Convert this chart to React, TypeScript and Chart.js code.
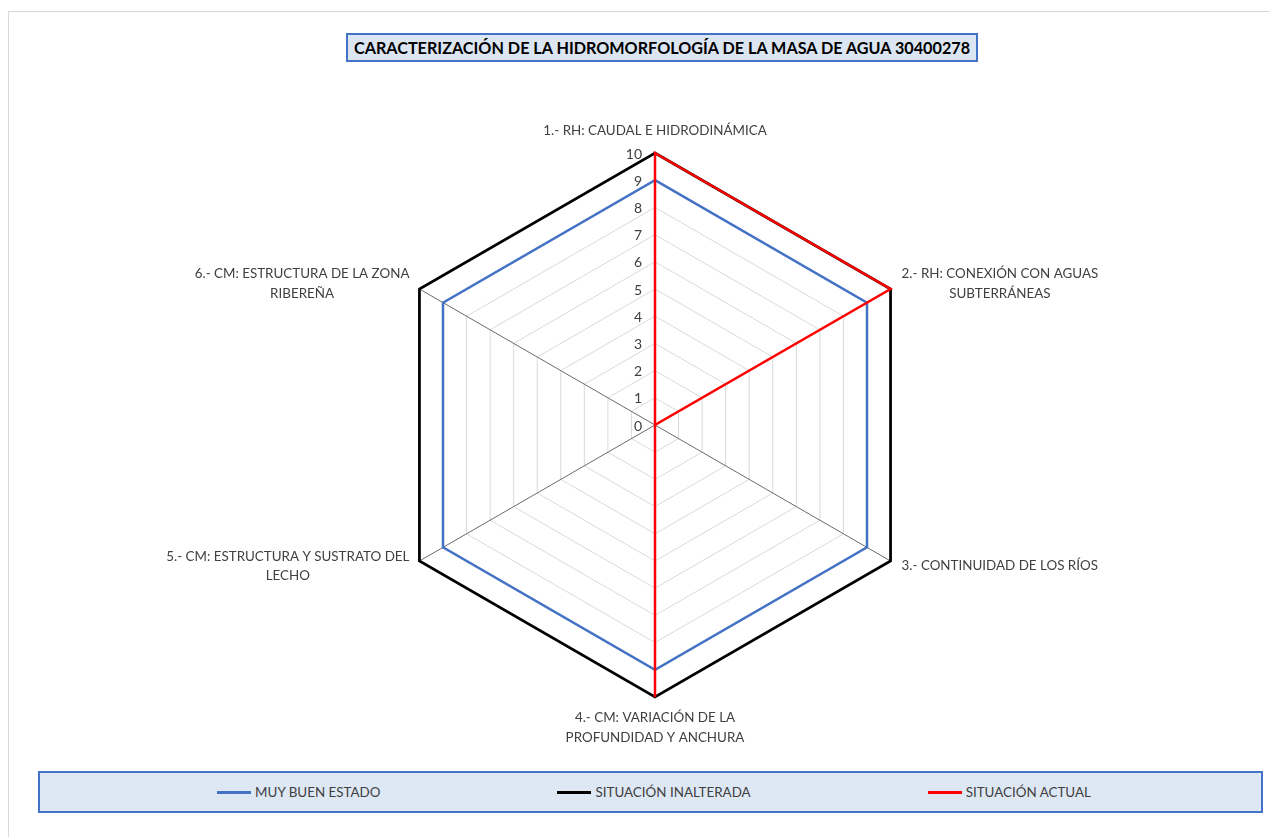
import React, { useEffect, useRef } from "react";
import { Chart, registerables } from "chart.js";

Chart.register(...registerables);

const TITLE = "CARACTERIZACIÓN DE LA HIDROMORFOLOGÍA DE LA MASA DE AGUA 30400278";

const categories: string[][] = [
  ["1.- RH: CAUDAL E HIDRODINÁMICA"],
  ["2.- RH: CONEXIÓN CON AGUAS", "SUBTERRÁNEAS"],
  ["3.- CONTINUIDAD DE LOS RÍOS"],
  ["4.- CM: VARIACIÓN DE LA", "PROFUNDIDAD Y ANCHURA"],
  ["5.- CM: ESTRUCTURA Y SUSTRATO DEL", "LECHO"],
  ["6.- CM: ESTRUCTURA DE LA ZONA", "RIBEREÑA"],
];

const seriesNames = ["MUY BUEN ESTADO", "SITUACIÓN INALTERADA", "SITUACIÓN ACTUAL"];
const muyBuenEstado = [9, 9, 9, 9, 9, 9];
const situacionInalterada = [10, 10, 10, 10, 10, 10];
const situacionActual = [10, 10, 0, 10, 0, 0];
const seriesColors = ["#4472C4", "#000000", "#FF0000"];

const axisMin = 0;
const axisMax = 10;
const axisStep = 1;

const LABEL_FONT = "13.4px Lato";
const TICK_FONT = "14px Lato";
const TEXT_COLOR = "#404040";

const labelPlugin = {
  id: "excelLabels",
  afterDraw(chart: any) {
    const scale = chart.scales.r;
    const ctx = chart.ctx;
    ctx.save();
    // tick labels (including 0), right aligned left of the vertical axis
    ctx.font = TICK_FONT;
    ctx.fillStyle = TEXT_COLOR;
    ctx.textAlign = "right";
    ctx.textBaseline = "middle";
    scale.ticks.forEach((t: any) => {
      const d = scale.getDistanceFromCenterForValue(t.value);
      ctx.fillText(String(t.value), scale.xCenter - 13, scale.yCenter - d + 1);
    });
    // category labels
    ctx.font = LABEL_FONT;
    const lh = 19.5;
    const labels: string[][] = chart.data.labels;
    labels.forEach((lines, i) => {
      const p = scale.getPointPosition(i, scale.drawingArea);
      const dx = p.x - scale.xCenter;
      const dy = p.y - scale.yCenter;
      const widths = lines.map((l) => ctx.measureText(l).width);
      const maxW = Math.max(...widths);
      ctx.textAlign = "center";
      ctx.textBaseline = "middle";
      let cx: number;
      let firstY: number;
      const n = lines.length;
      if (Math.abs(dx) < 1) {
        cx = p.x;
        if (dy < 0) firstY = p.y - 22 - (n - 1) * lh;
        else firstY = p.y + 21;
      } else {
        cx = dx > 0 ? p.x + 11 + maxW / 2 : p.x - 10 - maxW / 2;
        const centerY = p.y + (dy < 0 ? -5.5 : 5);
        firstY = centerY - ((n - 1) * lh) / 2;
      }
      lines.forEach((l, k) => ctx.fillText(l, cx, firstY + k * lh));
    });
    ctx.restore();
  },
};

export default function App() {
  const canvasRef = useRef<HTMLCanvasElement | null>(null);

  useEffect(() => {
    document.body.style.overflow = "hidden";
    const chart = new Chart(canvasRef.current as HTMLCanvasElement, {
      type: "radar",
      data: {
        labels: categories as any,
        datasets: [
          { label: seriesNames[0], data: muyBuenEstado, borderColor: seriesColors[0], borderWidth: 2.5, order: 3 },
          { label: seriesNames[1], data: situacionInalterada, borderColor: seriesColors[1], borderWidth: 2.75, order: 2 },
          { label: seriesNames[2], data: situacionActual, borderColor: seriesColors[2], borderWidth: 2.5, order: 1 },
        ].map((d) => ({ ...d, fill: false, pointRadius: 0, pointHoverRadius: 0, tension: 0, backgroundColor: "transparent" })),
      },
      options: {
        animation: false,
        responsive: true,
        maintainAspectRatio: false,
        layout: { padding: { top: 141, bottom: 55, left: 32, right: 0 } },
        plugins: { legend: { display: false }, title: { display: false }, tooltip: { enabled: false } },
        scales: {
          r: {
            min: axisMin,
            max: axisMax,
            ticks: { display: false, stepSize: axisStep },
            pointLabels: { display: false },
            grid: { circular: false, color: "#d9d9d9", lineWidth: 1 },
            angleLines: { display: true, color: "#6b6b6b", lineWidth: 1 },
          },
        },
      },
      plugins: [labelPlugin],
    });
    return () => chart.destroy();
  }, []);

  return (
    <div style={{ position: "absolute", left: 0, top: 0, width: 1270, height: 837, overflow: "hidden", background: "#fff" }}>
      <div
        style={{
          position: "absolute",
          left: 8,
          top: 11,
          width: 1262,
          height: 826,
          borderTop: "1px solid #d9d9d9",
          borderLeft: "1px solid #d9d9d9",
          boxSizing: "border-box",
        }}
      />
      <div
        style={{
          position: "absolute",
          left: 346,
          top: 33,
          width: 632,
          height: 29,
          boxSizing: "border-box",
          border: "2px solid #4472C4",
          background: "#DCE6F2",
          display: "flex",
          alignItems: "center",
          justifyContent: "center",
          font: "bold 16.2px Lato",
          color: "#000",
          whiteSpace: "nowrap",
        }}
      >
        {TITLE}
      </div>
      <div style={{ position: "absolute", left: 9, top: 12, width: 1260, height: 740 }}>
        <canvas ref={canvasRef} />
      </div>
      <div
        style={{
          position: "absolute",
          left: 38,
          top: 771,
          width: 1225,
          height: 42,
          boxSizing: "border-box",
          border: "2px solid #4472C4",
          background: "#DEE8F5",
          display: "flex",
          alignItems: "center",
          justifyContent: "center",
          gap: 177,
          paddingLeft: 7,
        }}
      >
        {seriesNames.map((name, i) => (
          <div key={name} style={{ display: "flex", alignItems: "center", font: "13.4px Lato", color: TEXT_COLOR, whiteSpace: "nowrap" }}>
            <span style={{ display: "inline-block", width: 34, height: 3, background: seriesColors[i], marginRight: 4 }} />
            {name}
          </div>
        ))}
      </div>
    </div>
  );
}
